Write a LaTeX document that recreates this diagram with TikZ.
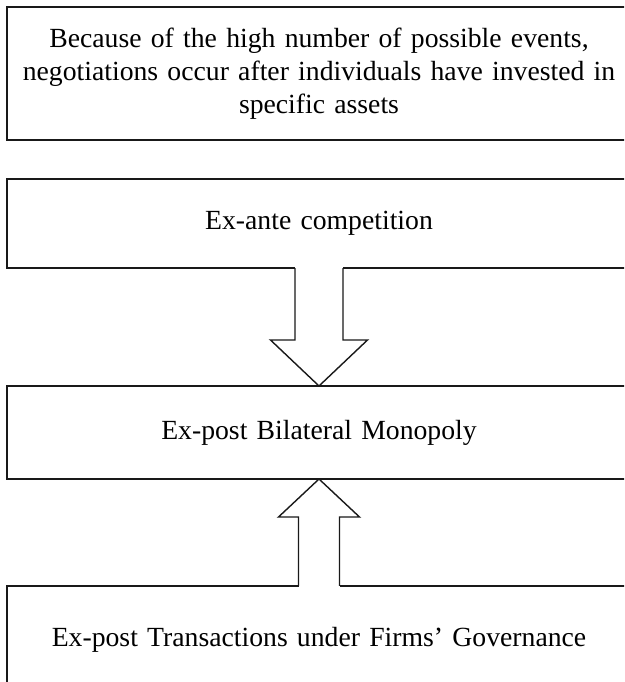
\documentclass[tikz,border=0pt]{standalone}
\usepackage{fontspec}
\setmainfont{Liberation Serif}
\usepackage{tikz}
\usetikzlibrary{positioning,calc}
\tikzstyle{stage} = [rectangle, minimum width=15.6cm, text width=15.4cm, inner xsep=0pt, align=center, draw=black!90, line width=1.1pt, outer sep=0pt, font=\fontsize{19.7}{23.4}\selectfont]
\tikzstyle{blockarrow} = [draw=black!90, line width=1pt, line join=miter]
\begin{document}
\begin{tikzpicture}[x=0.025cm, y=-0.025cm]
\useasboundingbox (0,0) rectangle (624,682);
\clip (0,0) rectangle (624,682);

% Boxes
\node (events) [stage, minimum height=3.325cm] at (319,73.5) {Because of the high number of possible events,\\negotiations occur after individuals have invested in\\specific assets};
\node (ante) [stage, minimum height=2.225cm] at (319,223.5) {Ex-ante competition};
\node (bilat) [stage, minimum height=2.325cm] at (319,432.5) {Ex-post Bilateral Monopoly};
\node (trans) [stage, minimum height=2.7cm] at (319,640) {Ex-post Transactions under Firms' Governance};

% Arrows
\fill[white] ($(ante.south)+(-24,-2)$) rectangle ($(ante.south)+(24,2)$);
\draw [blockarrow] ($(ante.south)+(-24,0)$) -- ($(bilat.north)+(-24,-46)$) -- ++(-24.5,0) -- (bilat.north) -- ++(48.5,-46) -- ++(-24.5,0) -- ($(ante.south)+(24,0)$);
\fill[white] ($(trans.north)+(-20.5,-2)$) rectangle ($(trans.north)+(20.5,2)$);
\draw [blockarrow] ($(trans.north)+(-20.5,0)$) -- ($(bilat.south)+(-20.5,38)$) -- ++(-20,0) -- (bilat.south) -- ++(40.5,38) -- ++(-20,0) -- ($(trans.north)+(20.5,0)$);

\end{tikzpicture}
\end{document}
